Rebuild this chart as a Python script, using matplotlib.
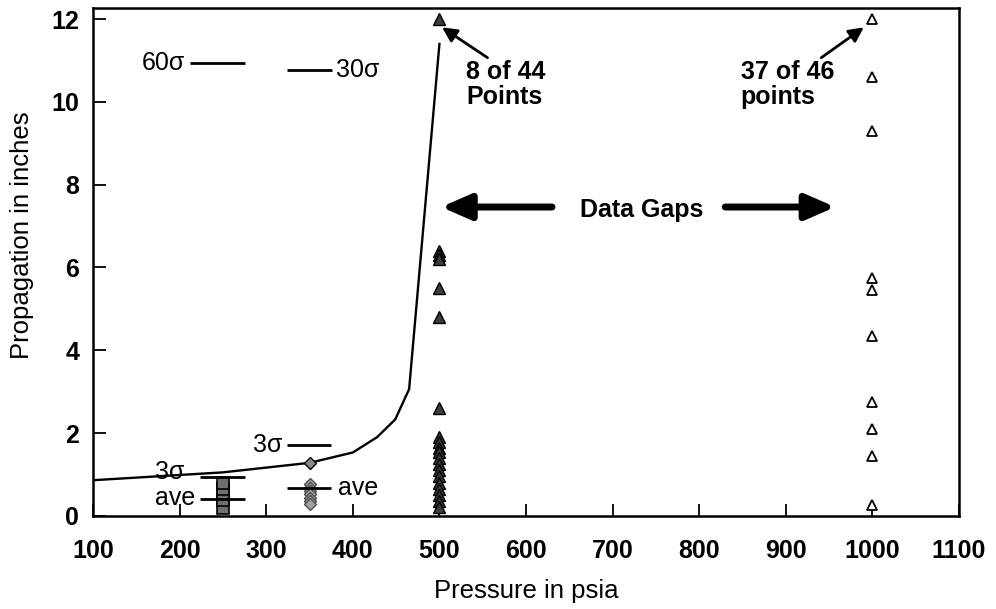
import matplotlib
matplotlib.use("Agg")
import matplotlib.pyplot as plt

plt.rcParams['font.family'] = ['Liberation Sans', 'DejaVu Sans']

# ----------------------------
# data
# ----------------------------
curve_x = [100, 250, 350, 400, 428, 449, 465, 500]
curve_y = [0.86, 1.05, 1.28, 1.53, 1.90, 2.33, 3.06, 11.4]

box_x = 250
box_y = [0.20, 0.38, 0.55, 0.65, 0.79]

dia_x = 350
dia_y = [0.78, 0.68, 0.60, 0.52, 0.44, 0.36, 0.28]
dia_curve_y = 1.28

tri500_x = 500
tri500_y = [12.0, 6.4, 6.3, 6.2, 5.5, 4.8, 2.6, 1.9, 1.78, 1.65, 1.55, 1.4,
            1.25, 1.1, 0.95, 0.8, 0.65, 0.5, 0.35, 0.22]

tri1000_x = 1000
tri1000_y = [12.0, 10.6, 9.3, 5.75, 5.45, 4.35, 2.75, 2.1, 1.45, 0.25]

# sigma / average marks
marks_250 = {"3σ": 0.94, "ave": 0.41}
marks_350 = {"3σ": 1.70, "ave": 0.68}
sig60_y = 10.93
sig30_y = 10.78

xticks = [100, 200, 300, 400, 500, 600, 700, 800, 900, 1000, 1100]
yticks = [0, 2, 4, 6, 8, 10, 12]

# ----------------------------
# figure
# ----------------------------
fig = plt.figure(figsize=(9.96, 6.09), dpi=100)
ax = fig.add_axes([0.0934, 0.153, 0.8695, 0.834])

ax.plot(curve_x, curve_y, color='black', lw=1.7, zorder=3)

# 250 psia column of squares
ax.plot([box_x] * len(box_y), box_y, 's', ms=8.6, mfc='#6f6f6f', mec='black',
        mew=1.2, ls='none', zorder=4)
# 350 psia diamonds
ax.plot([dia_x] * len(dia_y), dia_y, 'D', ms=6.5, mfc='#a0a0a0', mec='#505050',
        mew=1, ls='none', zorder=4)
ax.plot([dia_x], [dia_curve_y], 'D', ms=6.5, mfc='#888888', mec='black',
        mew=1, ls='none', zorder=4)
# 500 psia filled triangles
ax.plot([tri500_x] * len(tri500_y), tri500_y, '^', ms=8, mfc='#3c3c3c', mec='black',
        mew=1, ls='none', zorder=5)
# 1000 psia open triangles
ax.plot([tri1000_x] * len(tri1000_y), tri1000_y, '^', ms=7, mfc='white', mec='black',
        mew=1.3, ls='none', zorder=5)

# sigma / ave lines
for lab, yv in marks_250.items():
    ax.hlines(yv, box_x - 27, box_x + 26, color='black', lw=2, zorder=5)
for lab, yv in marks_350.items():
    ax.hlines(yv, dia_x - 26, dia_x + 25, color='black', lw=2, zorder=5)
ax.hlines(sig60_y, 212, 276, color='black', lw=2)
ax.hlines(sig30_y, 324, 376, color='black', lw=2)

fs = 18
ax.text(206, 1.05, "3σ", ha='right', va='center', fontsize=fs)
ax.text(218, 0.43, "ave", ha='right', va='center', fontsize=fs)
ax.text(319, 1.72, "3σ", ha='right', va='center', fontsize=fs)
ax.text(383, 0.68, "ave", ha='left', va='center', fontsize=fs)
ax.text(206, sig60_y, "60σ", ha='right', va='center', fontsize=fs)
ax.text(381, sig30_y, "30σ", ha='left', va='center', fontsize=fs)

# callouts
ax.annotate("8 of 44\nPoints", xy=(503, 11.8), xytext=(531, 11.0),
            fontsize=fs, fontweight='bold', ha='left', va='top', linespacing=1.05,
            arrowprops=dict(arrowstyle='-|>', color='black', lw=2, mutation_scale=22,
                            shrinkA=0, shrinkB=0, relpos=(0.32, 1.0)))
ax.annotate("37 of 46\npoints", xy=(990, 11.8), xytext=(848, 11.0),
            fontsize=fs, fontweight='bold', ha='left', va='top', linespacing=1.05,
            arrowprops=dict(arrowstyle='-|>', color='black', lw=2, mutation_scale=22,
                            shrinkA=0, shrinkB=0, relpos=(0.82, 1.0)))

ax.text(734, 7.4, "Data Gaps", ha='center', va='center', fontsize=fs, fontweight='bold')
ax.annotate("", xy=(502, 7.46), xytext=(630, 7.46),
            arrowprops=dict(arrowstyle='-|>,head_length=0.8,head_width=0.35', color='black',
                            lw=5, mutation_scale=22, shrinkA=0, shrinkB=0))
ax.annotate("", xy=(957, 7.46), xytext=(830, 7.46),
            arrowprops=dict(arrowstyle='-|>,head_length=0.8,head_width=0.35', color='black',
                            lw=5, mutation_scale=22, shrinkA=0, shrinkB=0))

# axes styling
ax.set_xlim(100, 1100)
ax.set_ylim(0, 12.27)
ax.set_xticks(xticks)
ax.set_yticks(yticks)
ax.tick_params(direction='in', length=9, width=1.3, labelsize=18)
ax.tick_params(axis='x', pad=17)
ax.tick_params(axis='y', pad=10)
for lab in ax.get_xticklabels() + ax.get_yticklabels():
    lab.set_fontweight('bold')
for sp in ax.spines.values():
    sp.set_linewidth(1.8)

ax.set_xlabel("Pressure in psia", fontsize=18.5)
ax.set_ylabel("Propagation in inches", fontsize=18.5)
ax.xaxis.set_label_coords(0.5, -0.125)
ax.yaxis.set_label_coords(-0.068, 0.553)

fig.savefig("out.png", dpi=100)
